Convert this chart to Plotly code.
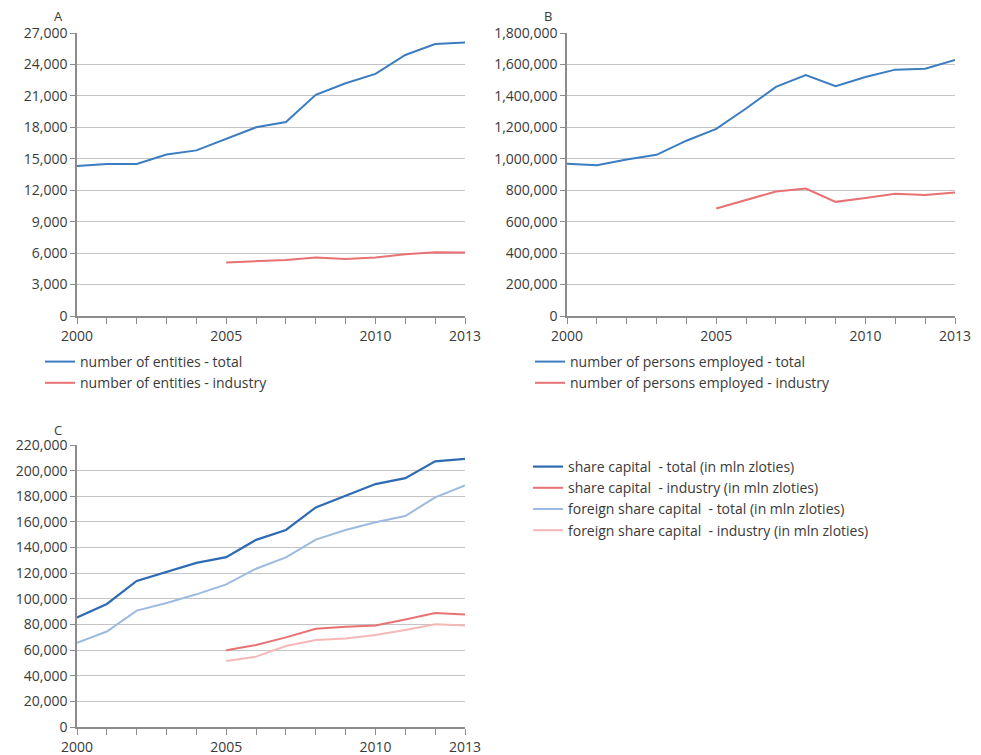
import plotly.graph_objects as go

years = list(range(2000, 2014))
years_ind = list(range(2005, 2014))

# Panel A: number of entities
entities_total = [14300, 14500, 14500, 15400, 15800, 16900, 18000, 18500, 21100, 22200, 23100, 24900, 25950, 26100]
entities_industry = [5100, 5250, 5350, 5580, 5450, 5580, 5880, 6080, 6050]

# Panel B: number of persons employed
employed_total = [968000, 959000, 995000, 1025000, 1115000, 1190000, 1320000, 1457000, 1533000, 1461000, 1520000, 1567000, 1573000, 1628000]
employed_industry = [684000, 737000, 792000, 811000, 726000, 750000, 777000, 769000, 786000]

# Panel C: share capital (in mln zloties)
capital_total = [85400, 96000, 114000, 121000, 128000, 132500, 146000, 153700, 171300, 180400, 189500, 194100, 207300, 209100]
capital_industry = [59800, 63900, 69900, 76600, 78200, 79200, 83900, 89000, 87700]
foreign_total = [65700, 74500, 90800, 96800, 103500, 111300, 123500, 132300, 146200, 153700, 159700, 164600, 179100, 188400]
foreign_industry = [51500, 54900, 63200, 67800, 69100, 71700, 75600, 80200, 79200]

x_tickvals = years
x_ticktext = ["2000", "", "", "", "", "2005", "", "", "", "", "2010", "", "", "2013"]

BLUE = "#3b7dc0"
DARKBLUE = "#2e6bb3"
RED = "#e87173"
LIGHTBLUE = "#9dbadf"
PINK = "#f5b8b8"
FONT = "Open Sans"
TXT = "#3a3a3a"
FS = 14

# figure sits inside the page with an 8px body margin
OFF = 8
W, H = 981 - 2 * OFF, 755 - OFF

def px_x(a, b):
    return [(a - OFF) / W, (b - OFF) / W]
def px_y(top, bottom):
    return [1 - (bottom - OFF) / H, 1 - (top - OFF) / H]
def pos_x(a):
    return (a - OFF) / W
def pos_y(t):
    return 1 - (t - OFF) / H

fig = go.Figure()

fig.add_trace(go.Scatter(x=years, y=entities_total, mode="lines", name="number of entities - total",
                         line=dict(color=BLUE, width=2), xaxis="x", yaxis="y", legend="legend"))
fig.add_trace(go.Scatter(x=years_ind, y=entities_industry, mode="lines", name="number of entities - industry",
                         line=dict(color=RED, width=2), xaxis="x", yaxis="y", legend="legend"))

fig.add_trace(go.Scatter(x=years, y=employed_total, mode="lines", name="number of persons employed - total",
                         line=dict(color=BLUE, width=2), xaxis="x2", yaxis="y2", legend="legend2"))
fig.add_trace(go.Scatter(x=years_ind, y=employed_industry, mode="lines", name="number of persons employed - industry",
                         line=dict(color=RED, width=2), xaxis="x2", yaxis="y2", legend="legend2"))

fig.add_trace(go.Scatter(x=years, y=capital_total, mode="lines", name="share capital  - total (in mln zloties)",
                         line=dict(color=DARKBLUE, width=2.2), xaxis="x3", yaxis="y3", legend="legend3"))
fig.add_trace(go.Scatter(x=years_ind, y=capital_industry, mode="lines", name="share capital  - industry (in mln zloties)",
                         line=dict(color=RED, width=2), xaxis="x3", yaxis="y3", legend="legend3"))
fig.add_trace(go.Scatter(x=years, y=foreign_total, mode="lines", name="foreign share capital  - total (in mln zloties)",
                         line=dict(color=LIGHTBLUE, width=2), xaxis="x3", yaxis="y3", legend="legend3"))
fig.add_trace(go.Scatter(x=years_ind, y=foreign_industry, mode="lines", name="foreign share capital  - industry (in mln zloties)",
                         line=dict(color=PINK, width=2), xaxis="x3", yaxis="y3", legend="legend3"))

def xaxis(domain, anchor):
    return dict(domain=domain, anchor=anchor, range=[2000, 2013], tickvals=x_tickvals, ticktext=x_ticktext,
                ticks="outside", ticklen=6, tickcolor="#8c8c8c", showline=True, linecolor="#8c8c8c",
                linewidth=1.5, showgrid=False, zeroline=False, fixedrange=True, automargin=False,
                tickfont=dict(size=FS, color=TXT, family=FONT))

def yaxis(domain, anchor, rng, dtick):
    return dict(domain=domain, anchor=anchor, range=rng, dtick=dtick, tickformat=",",
                ticks="outside", ticklen=5, tickcolor="#8c8c8c", showline=True, linecolor="#8c8c8c",
                linewidth=1.5, showgrid=True, gridcolor="#c4c4c4", gridwidth=1.2, zeroline=False,
                fixedrange=True, automargin=False, tickfont=dict(size=FS, color=TXT, family=FONT))

legend_common = dict(bgcolor="rgba(0,0,0,0)", font=dict(size=FS, color=TXT, family=FONT),
                     tracegroupgap=0, itemwidth=30, xanchor="left", yanchor="top")

def label(text, x, y):
    return dict(text=text, x=pos_x(x), y=pos_y(y), xref="paper", yref="paper", showarrow=False,
                xanchor="center", yanchor="middle", borderpad=0,
                font=dict(size=13, color=TXT, family=FONT))

fig.update_layout(
    width=W, height=H,
    margin=dict(l=0, r=0, t=0, b=0, autoexpand=False),
    paper_bgcolor="white", plot_bgcolor="white",
    font=dict(family=FONT, color=TXT),
    xaxis=xaxis(px_x(77, 465), "y"),
    yaxis=yaxis(px_y(33, 316), "x", [0, 27000], 3000),
    xaxis2=xaxis(px_x(567, 955), "y2"),
    yaxis2=yaxis(px_y(33, 316), "x2", [0, 1800000], 200000),
    xaxis3=xaxis(px_x(77, 465), "y3"),
    yaxis3=yaxis(px_y(445, 727), "x3", [0, 220000], 20000),
    legend=dict(x=pos_x(40), y=pos_y(346), **legend_common),
    legend2=dict(x=pos_x(530), y=pos_y(346), **legend_common),
    legend3=dict(x=pos_x(528), y=pos_y(451), tracegroupgap=0, **{k: v for k, v in legend_common.items() if k != "tracegroupgap"}),
    showlegend=True,
    annotations=[
        label("A", 58, 16),
        label("B", 548, 16),
        label("C", 58, 430),
    ],
)

fig.write_html("out.html")
